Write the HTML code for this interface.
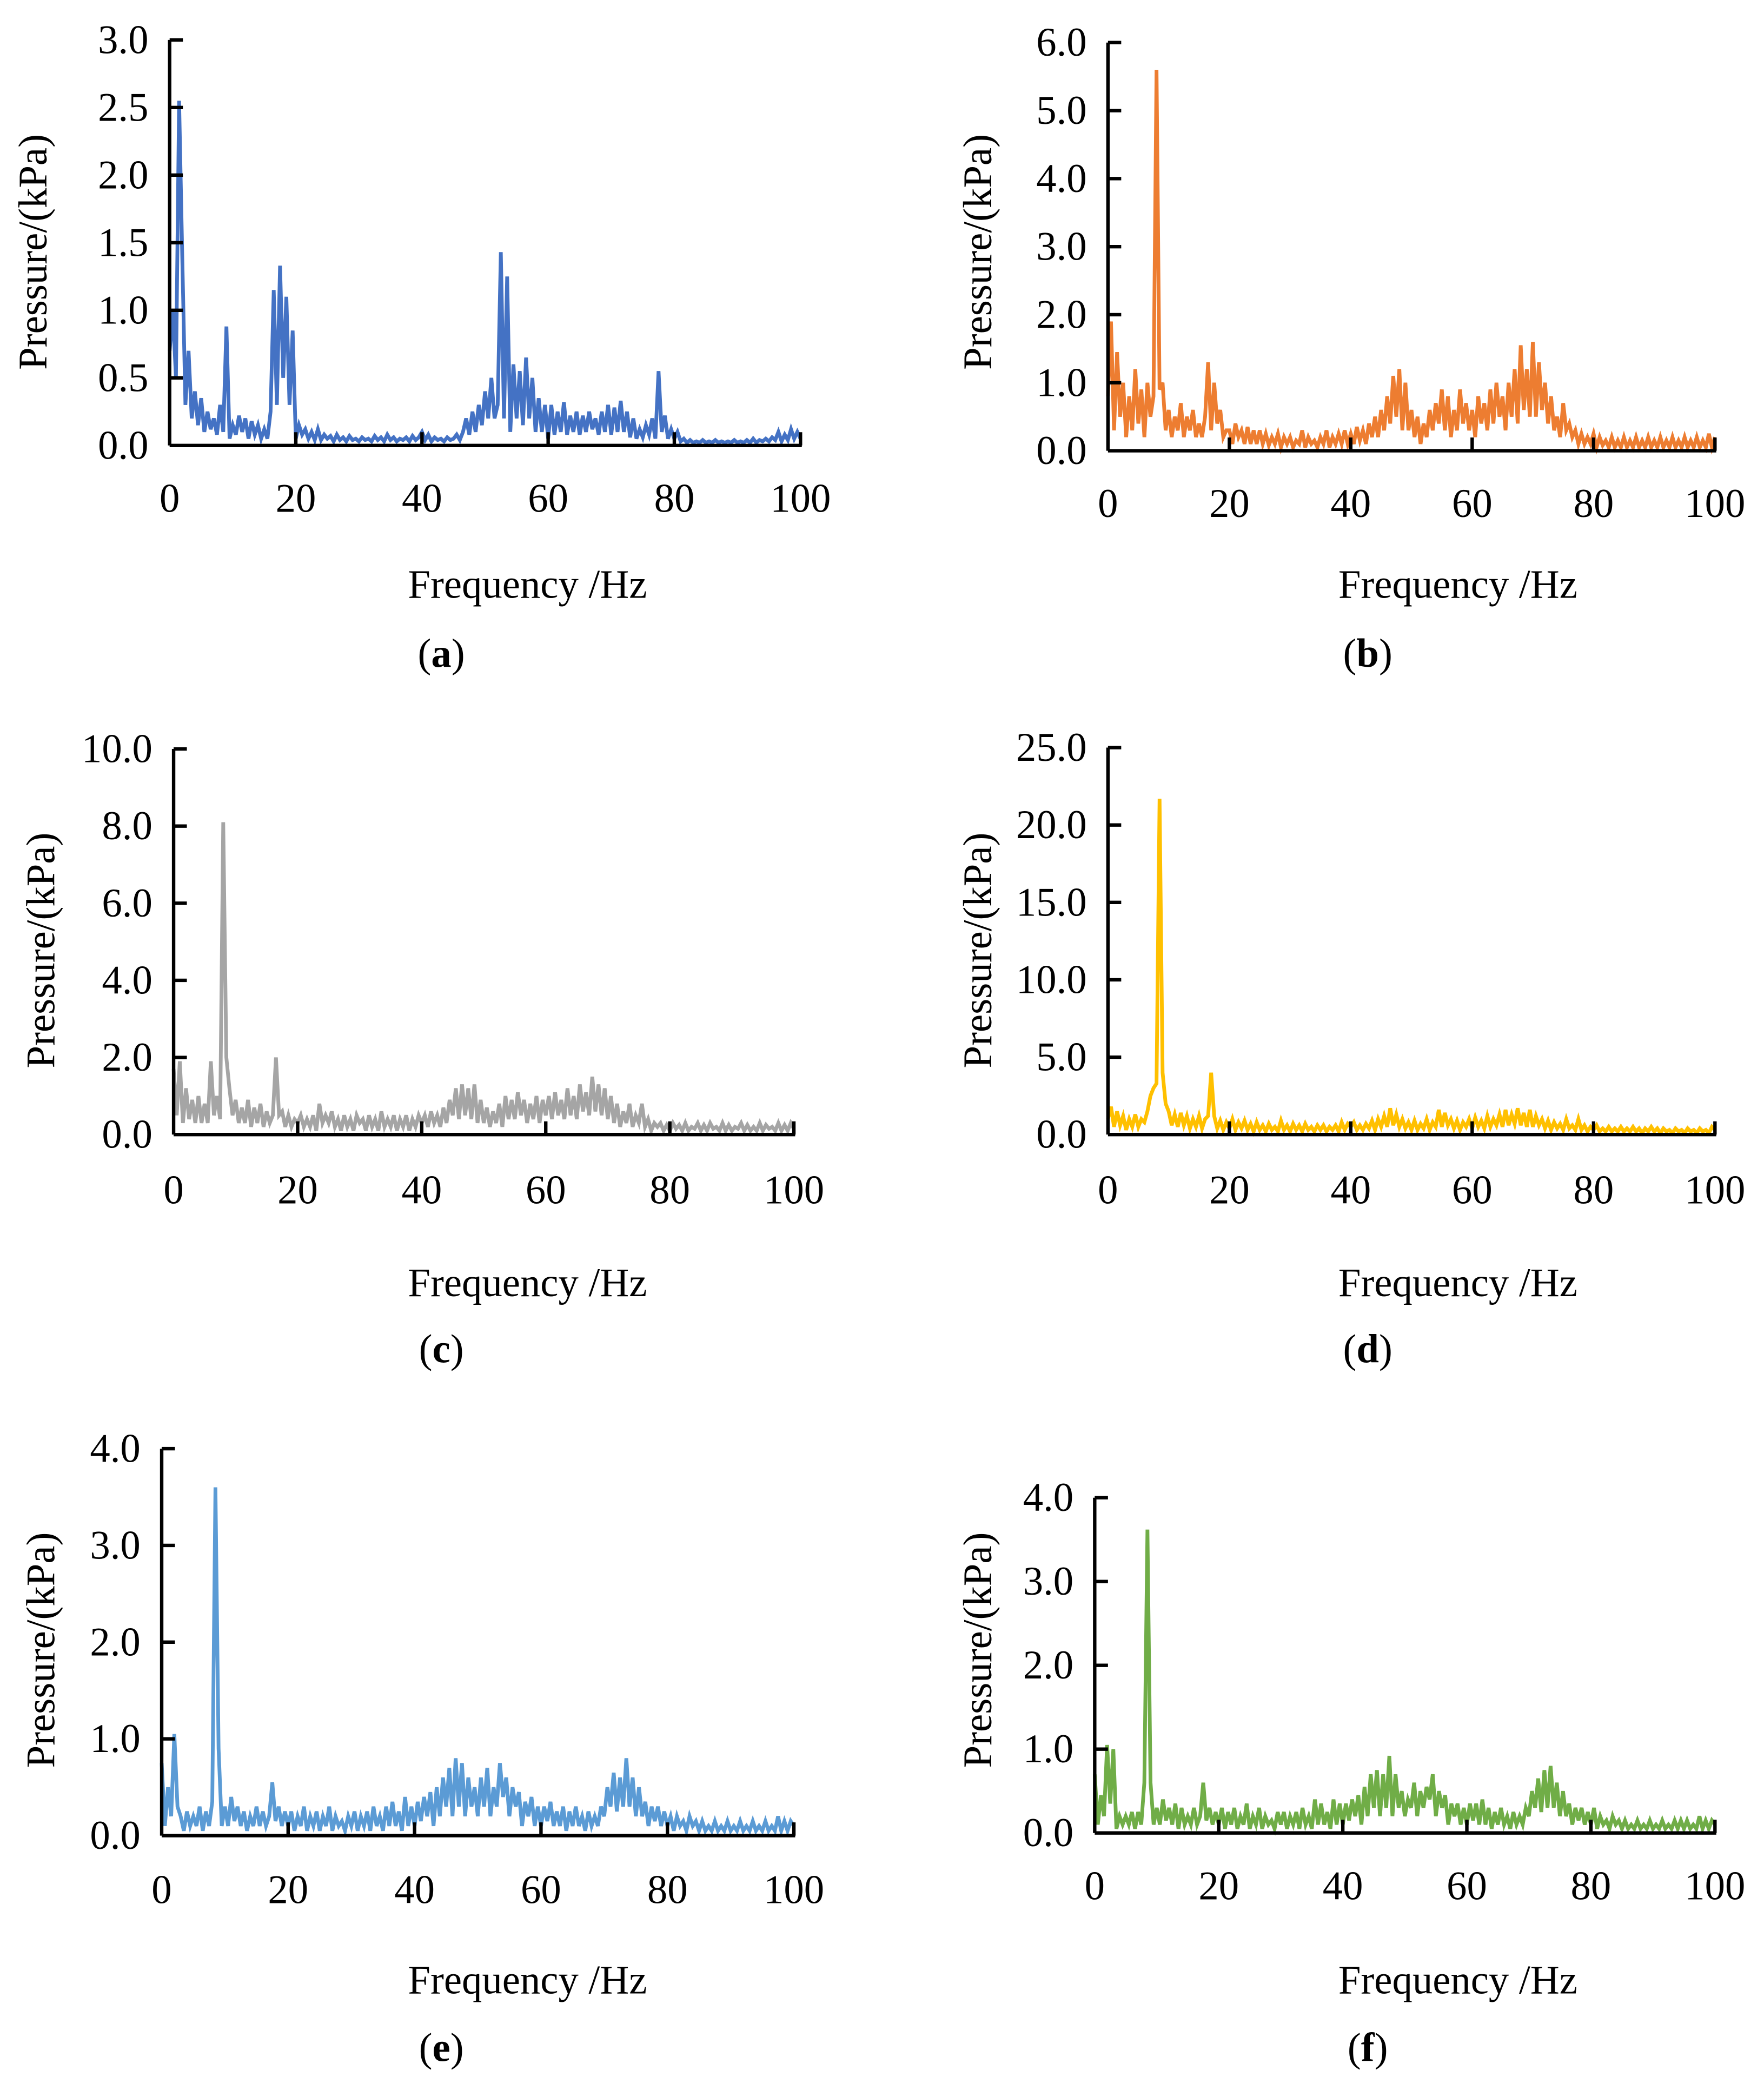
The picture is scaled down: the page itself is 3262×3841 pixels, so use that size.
<!DOCTYPE html>
<html><head><meta charset="utf-8">
<style>
html,body{margin:0;padding:0;background:#fff;}
svg{display:block;}
text{font-family:"Liberation Serif",serif;fill:#000;}
</style></head>
<body>
<svg id="fig" xmlns="http://www.w3.org/2000/svg" width="3262" height="3841" viewBox="0 0 1331 1567">
<rect x="0" y="0" width="1331" height="1567" fill="#fff"/>
</svg>
<script>
// Frequency categories: 0..100 Hz at 0.5 Hz step (index i -> i*0.5 Hz)
const freqStep = 0.5;
const xTicks = [0, 20, 40, 60, 80, 100];

const seriesA = [0.7,1.0,0.5,2.55,1.4,0.3,0.7,0.2,0.4,0.15,
0.35,0.1,0.25,0.12,0.2,0.08,0.3,0.1,0.88,0.05,
0.15,0.08,0.22,0.1,0.2,0.05,0.18,0.08,0.15,0.05,
0.12,0.05,0.25,1.15,0.3,1.33,0.5,1.1,0.3,0.85,
0.05,0.15,0.08,0.12,0.05,0.1,0.04,0.12,0.04,0.08,
0.05,0.07,0.03,0.08,0.04,0.06,0.03,0.07,0.04,0.05,
0.03,0.06,0.04,0.05,0.03,0.07,0.04,0.06,0.03,0.08,
0.04,0.06,0.03,0.05,0.04,0.06,0.03,0.07,0.04,0.06,
0.1,0.04,0.08,0.03,0.06,0.04,0.05,0.03,0.06,0.04,
0.05,0.08,0.04,0.1,0.2,0.08,0.25,0.1,0.3,0.15,
0.4,0.2,0.5,0.2,0.3,1.43,0.2,1.25,0.1,0.6,
0.2,0.55,0.15,0.65,0.2,0.5,0.1,0.35,0.1,0.3,
0.05,0.3,0.08,0.25,0.1,0.32,0.08,0.22,0.1,0.25,
0.08,0.22,0.1,0.25,0.12,0.2,0.08,0.25,0.1,0.3,
0.08,0.28,0.1,0.33,0.1,0.25,0.06,0.2,0.05,0.12,
0.06,0.15,0.08,0.2,0.05,0.55,0.1,0.22,0.05,0.12,
0.05,0.1,0.03,0.05,0.02,0.04,0.02,0.03,0.02,0.04,
0.02,0.03,0.02,0.04,0.02,0.03,0.02,0.03,0.02,0.04,
0.02,0.03,0.02,0.04,0.02,0.05,0.02,0.04,0.03,0.05,
0.03,0.06,0.04,0.1,0.03,0.08,0.04,0.12,0.05,0.1,0.05];

const seriesB = [0.8,1.9,0.3,1.45,0.5,1.0,0.2,0.8,0.3,1.2,
0.4,0.9,0.2,1.0,0.5,0.8,5.6,0.9,1.0,0.3,
0.6,0.2,0.5,0.3,0.7,0.2,0.5,0.3,0.6,0.2,
0.4,0.2,0.5,1.3,0.3,1.0,0.4,0.6,0.2,0.3,
0.3,0.1,0.4,0.2,0.3,0.1,0.35,0.1,0.3,0.1,
0.3,0.1,0.25,0.08,0.2,0.1,0.25,0.05,0.2,0.1,
0.2,0.05,0.15,0.1,0.3,0.05,0.2,0.1,0.15,0.05,
0.2,0.1,0.3,0.05,0.2,0.1,0.25,0.1,0.3,0.1,
0.25,0.1,0.35,0.15,0.3,0.1,0.4,0.2,0.5,0.2,
0.6,0.3,0.8,0.4,1.1,0.5,1.2,0.3,1.0,0.3,
0.6,0.2,0.5,0.1,0.4,0.2,0.6,0.3,0.7,0.4,
0.9,0.3,0.8,0.2,0.6,0.3,0.9,0.4,0.7,0.3,
0.6,0.2,0.8,0.4,0.7,0.3,0.9,0.4,1.0,0.5,
0.8,0.3,1.0,0.5,1.2,0.4,1.55,0.6,1.2,0.5,
1.6,0.5,1.3,0.6,1.0,0.4,0.8,0.3,0.5,0.2,
0.7,0.3,0.4,0.2,0.3,0.1,0.25,0.1,0.2,0.1,
0.25,0.05,0.2,0.08,0.15,0.05,0.2,0.05,0.15,0.05,
0.2,0.05,0.15,0.05,0.2,0.05,0.15,0.05,0.2,0.05,
0.15,0.05,0.2,0.05,0.15,0.05,0.2,0.05,0.15,0.05,
0.2,0.05,0.15,0.05,0.2,0.05,0.15,0.05,0.25,0.05,0.2];

const seriesC = [1.7,0.5,1.9,0.3,1.2,0.4,0.9,0.3,1.0,0.3,
0.8,0.3,1.9,0.5,1.0,0.4,8.1,2.0,1.2,0.5,
0.9,0.3,0.7,0.3,0.9,0.2,0.7,0.3,0.8,0.2,
0.6,0.3,0.5,2.0,0.5,0.6,0.2,0.5,0.2,0.4,
0.3,0.5,0.2,0.4,0.2,0.5,0.1,0.8,0.3,0.5,
0.3,0.6,0.2,0.4,0.1,0.5,0.2,0.4,0.1,0.5,
0.3,0.4,0.1,0.5,0.2,0.4,0.1,0.6,0.2,0.4,
0.2,0.5,0.1,0.4,0.2,0.5,0.1,0.4,0.2,0.5,
0.3,0.5,0.2,0.6,0.3,0.5,0.2,0.7,0.3,0.9,
0.5,1.2,0.4,1.3,0.5,1.2,0.4,1.3,0.3,0.9,
0.3,0.7,0.2,0.6,0.3,0.8,0.2,1.0,0.4,0.9,
0.4,1.1,0.5,0.9,0.3,0.8,0.4,1.0,0.3,0.9,
0.5,1.0,0.4,1.1,0.5,0.9,0.4,1.2,0.5,1.0,
0.4,1.3,0.6,1.1,0.5,1.5,0.6,1.3,0.5,1.2,
0.4,1.0,0.3,0.8,0.2,0.6,0.3,0.8,0.2,0.5,
0.3,0.8,0.2,0.4,0.1,0.3,0.2,0.3,0.1,0.25,
0.1,0.3,0.15,0.25,0.1,0.3,0.1,0.2,0.15,0.3,
0.1,0.25,0.1,0.3,0.15,0.2,0.1,0.3,0.1,0.25,
0.1,0.2,0.15,0.3,0.1,0.25,0.1,0.2,0.1,0.3,
0.1,0.25,0.15,0.2,0.1,0.3,0.1,0.25,0.1,0.3,0.15];

const seriesD = [1.0,1.8,0.5,1.5,0.6,1.2,0.3,1.0,0.5,1.3,
0.5,1.0,0.8,1.5,2.5,3.0,3.3,21.7,4.0,2.0,
1.5,0.6,1.3,0.5,1.4,0.6,1.2,0.4,1.0,0.5,
1.2,0.4,1.0,1.2,4.0,1.2,0.4,0.9,0.3,0.8,
0.4,1.0,0.3,0.8,0.4,0.9,0.3,0.7,0.2,0.8,
0.3,0.6,0.2,0.7,0.3,0.5,0.2,0.9,0.3,0.6,
0.2,0.7,0.3,0.6,0.2,0.7,0.3,0.5,0.2,0.6,
0.3,0.6,0.2,0.5,0.3,0.6,0.2,0.8,0.3,0.7,
0.5,0.8,0.3,0.6,0.3,0.7,0.4,0.9,0.3,1.0,
0.5,1.2,0.5,1.7,0.6,1.3,0.5,1.0,0.4,0.8,
0.3,0.9,0.3,0.7,0.4,1.0,0.3,0.8,0.5,1.6,
0.5,1.4,0.6,1.0,0.4,0.9,0.3,0.8,0.5,1.0,
0.4,1.1,0.5,0.9,0.4,1.2,0.5,1.0,0.6,1.3,
0.5,1.6,0.6,1.3,0.7,1.7,0.6,1.4,0.5,1.6,
0.5,1.2,0.6,1.0,0.4,0.9,0.3,0.8,0.4,0.7,
0.3,1.0,0.4,0.6,0.3,1.0,0.3,0.6,0.2,0.5,
0.3,0.6,0.2,0.4,0.2,0.5,0.2,0.4,0.2,0.5,
0.2,0.4,0.2,0.5,0.2,0.4,0.1,0.4,0.2,0.5,
0.2,0.4,0.1,0.4,0.2,0.3,0.1,0.4,0.2,0.3,
0.1,0.4,0.2,0.3,0.1,0.4,0.2,0.3,0.1,0.5,0.3];

const seriesE = [0.75,0.1,0.5,0.2,1.05,0.3,0.2,0.05,0.25,0.1,
0.2,0.1,0.3,0.05,0.25,0.1,0.35,3.6,0.9,0.1,
0.3,0.1,0.4,0.15,0.3,0.1,0.25,0.05,0.2,0.1,
0.3,0.1,0.25,0.1,0.2,0.55,0.15,0.3,0.1,0.25,
0.1,0.25,0.05,0.2,0.1,0.3,0.05,0.2,0.1,0.25,
0.05,0.2,0.1,0.3,0.05,0.2,0.1,0.15,0.05,0.2,
0.1,0.25,0.05,0.2,0.1,0.25,0.05,0.3,0.1,0.2,
0.05,0.3,0.1,0.35,0.1,0.25,0.05,0.4,0.1,0.3,
0.1,0.35,0.15,0.4,0.2,0.45,0.1,0.5,0.2,0.6,
0.3,0.7,0.2,0.8,0.3,0.75,0.2,0.6,0.3,0.5,
0.2,0.6,0.3,0.7,0.2,0.5,0.3,0.75,0.4,0.6,
0.2,0.5,0.3,0.45,0.1,0.35,0.2,0.4,0.1,0.3,
0.1,0.3,0.15,0.35,0.1,0.25,0.1,0.3,0.05,0.25,
0.1,0.3,0.1,0.2,0.05,0.25,0.1,0.2,0.1,0.3,
0.2,0.5,0.3,0.65,0.25,0.6,0.3,0.8,0.3,0.6,
0.2,0.5,0.2,0.35,0.1,0.3,0.15,0.3,0.1,0.25,
0.1,0.2,0.05,0.2,0.1,0.15,0.05,0.2,0.1,0.15,
0.05,0.15,0.05,0.1,0.05,0.15,0.05,0.1,0.05,0.15,
0.05,0.1,0.05,0.15,0.05,0.1,0.05,0.15,0.05,0.1,
0.05,0.15,0.05,0.1,0.05,0.2,0.05,0.15,0.05,0.15,0.1];

const seriesF = [0.7,0.1,0.45,0.2,1.05,0.35,1.0,0.05,0.2,0.1,
0.2,0.1,0.25,0.05,0.25,0.1,0.6,3.62,0.6,0.1,
0.3,0.1,0.4,0.15,0.3,0.1,0.35,0.05,0.3,0.1,
0.2,0.1,0.3,0.1,0.2,0.6,0.15,0.3,0.1,0.25,
0.1,0.3,0.05,0.25,0.1,0.3,0.05,0.2,0.1,0.35,
0.05,0.2,0.1,0.3,0.05,0.2,0.1,0.15,0.05,0.25,
0.1,0.25,0.05,0.2,0.1,0.25,0.05,0.3,0.1,0.2,
0.05,0.4,0.1,0.35,0.1,0.25,0.05,0.4,0.1,0.35,
0.1,0.35,0.15,0.4,0.2,0.45,0.1,0.55,0.2,0.7,
0.3,0.75,0.2,0.7,0.3,0.92,0.2,0.7,0.3,0.5,
0.2,0.4,0.3,0.6,0.2,0.5,0.3,0.55,0.4,0.7,
0.2,0.5,0.3,0.45,0.1,0.35,0.2,0.35,0.1,0.3,
0.1,0.35,0.15,0.35,0.1,0.4,0.1,0.3,0.05,0.25,
0.1,0.3,0.1,0.2,0.05,0.25,0.1,0.2,0.1,0.3,
0.2,0.5,0.3,0.65,0.25,0.75,0.3,0.8,0.3,0.6,
0.2,0.5,0.2,0.35,0.1,0.3,0.15,0.3,0.1,0.25,
0.1,0.3,0.05,0.2,0.1,0.15,0.05,0.2,0.1,0.15,
0.05,0.15,0.05,0.1,0.05,0.15,0.05,0.1,0.05,0.15,
0.05,0.1,0.05,0.15,0.05,0.1,0.05,0.15,0.05,0.15,
0.05,0.15,0.05,0.1,0.05,0.2,0.05,0.15,0.05,0.15,0.1];

const yMaxA = 3, yStepA = 0.5;
const yMaxB = 6, yStepB = 1;
const yMaxC = 10, yStepC = 2;
const yMaxD = 25, yStepD = 5;
const yMaxE = 4, yStepE = 1;
const yMaxF = 4, yStepF = 1;

const NS = 'http://www.w3.org/2000/svg';
const svg = document.getElementById('fig');
function mk(tag, attrs, parent) {
  const e = document.createElementNS(NS, tag);
  for (const k in attrs) e.setAttribute(k, attrs[k]);
  (parent || svg).appendChild(e);
  return e;
}

const FS = 30.5;
const panels = [
 {id:'a', data:seriesA, ymax:yMaxA, ystep:yStepA, color:'#4472C4', x0:128, x1:604, y0:336, y1:30, ytx:25, yty:190, xly:386, titx:398, tity:451, capx:333, capy:503},
 {id:'b', data:seriesB, ymax:yMaxB, ystep:yStepB, color:'#ED7D31', x0:836, x1:1294, y0:340, y1:32, ytx:738, yty:190, xly:390, titx:1100, tity:451, capx:1032, capy:503},
 {id:'c', data:seriesC, ymax:yMaxC, ystep:yStepC, color:'#A5A5A5', x0:131, x1:599, y0:856, y1:565, ytx:31, yty:717, xly:908, titx:398, tity:978, capx:333, capy:1028},
 {id:'d', data:seriesD, ymax:yMaxD, ystep:yStepD, color:'#FFC000', x0:836, x1:1294, y0:856, y1:564, ytx:738, yty:717, xly:908, titx:1100, tity:978, capx:1032, capy:1028},
 {id:'e', data:seriesE, ymax:yMaxE, ystep:yStepE, color:'#5B9BD5', x0:122, x1:599, y0:1385, y1:1093, ytx:31, yty:1245, xly:1436, titx:398, tity:1504, capx:333, capy:1555},
 {id:'f', data:seriesF, ymax:yMaxF, ystep:yStepF, color:'#70AD47', x0:826, x1:1294, y0:1383, y1:1130, ytx:738, yty:1245, xly:1433, titx:1100, tity:1504, capx:1032, capy:1555}
];

panels.forEach(p => {
  const g = mk('g', {});
  
  
  const xs = f => p.x0 + (f / 100) * (p.x1 - p.x0);
  const ys = v => p.y0 - (v / p.ymax) * (p.y0 - p.y1);

  let d = '';
  p.data.forEach((v, i) => { d += (i ? 'L' : 'M') + xs(i * freqStep).toFixed(2) + ' ' + ys(v).toFixed(2); });
  const line = mk('path', {d: d, fill: 'none', stroke: p.color, 'stroke-width': 2.8, 'stroke-linejoin': 'miter'}, g);
  
  

  const ya = mk('line', {x1: p.x0, y1: p.y0, x2: p.x0, y2: p.y1, stroke: '#000', 'stroke-width': 2.6}, g);
  
  
  const xa = mk('line', {x1: p.x0, y1: p.y0, x2: p.x1 + 1, y2: p.y0, stroke: '#000', 'stroke-width': 2.6}, g);
  
  

  const n = Math.round(p.ymax / p.ystep);
  for (let k = 0; k <= n; k++) {
    const v = k * p.ystep, y = ys(v);
    if (k > 0) mk('line', {x1: p.x0, y1: y, x2: p.x0 + 10, y2: y, stroke: '#000', 'stroke-width': 2.6}, g);
    const t = mk('text', {x: p.x0 - 16, y: y + 10, 'text-anchor': 'end', 'font-size': FS}, g);
    t.textContent = v.toFixed(1);
    
    
  }
  xTicks.forEach(f => {
    const x = xs(f);
    if (f > 0) mk('line', {x1: x, y1: p.y0, x2: x, y2: p.y0 - 10, stroke: '#000', 'stroke-width': 2.6}, g);
    const t = mk('text', {x: x, y: p.xly, 'text-anchor': 'middle', 'font-size': FS}, g);
    t.textContent = String(f);
    
    
  });
  const yt = mk('text', {x: 0, y: 0, 'text-anchor': 'middle', 'font-size': FS, transform: 'translate(' + (p.ytx + 10) + ',' + p.yty + ') rotate(-90)'}, g);
  yt.textContent = 'Pressure/(kPa)';
  
  
  const xt = mk('text', {x: p.titx, y: p.tity, 'text-anchor': 'middle', 'font-size': FS}, g);
  xt.textContent = 'Frequency /Hz';
  
  
  const cap = mk('text', {x: p.capx, y: p.capy, 'text-anchor': 'middle', 'font-size': FS}, g);
  
  
  const s1 = mk('tspan', {}, cap); s1.textContent = '(';
  const s2 = mk('tspan', {'font-weight': 'bold'}, cap); s2.textContent = p.id;
  const s3 = mk('tspan', {}, cap); s3.textContent = ')';
});
</script>
</body></html>
